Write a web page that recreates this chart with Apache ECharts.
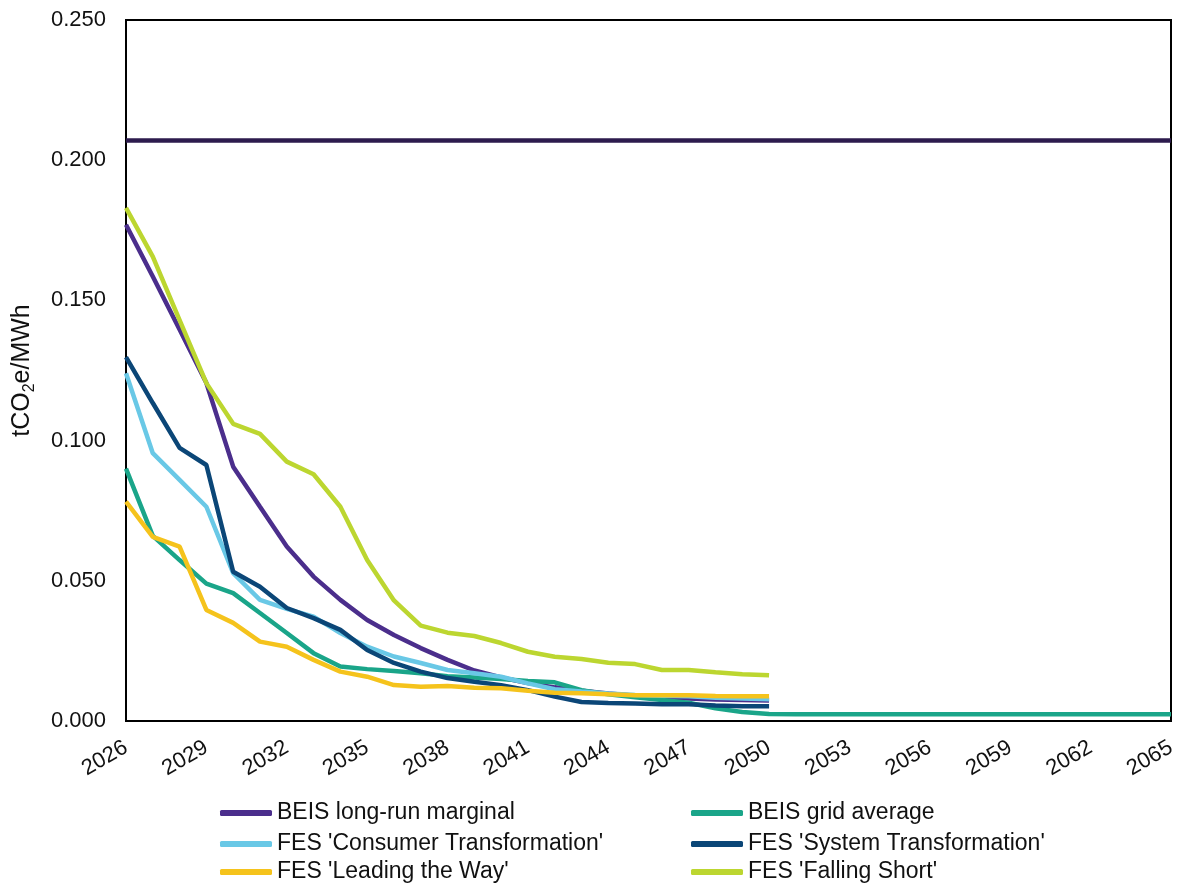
<!DOCTYPE html>
<html>
<head>
<meta charset="utf-8">
<script src="https://cdn.jsdelivr.net/npm/echarts@6/dist/echarts.min.js"></script>
<style>
html,body{margin:0;padding:0;background:#fff;}
#chart{width:1181px;height:883px;}
</style>
</head>
<body>
<div id="chart"></div>
<script>
// Categories (years)
const years = ['2026','2027','2028','2029','2030','2031','2032','2033','2034','2035',
  '2036','2037','2038','2039','2040','2041','2042','2043','2044','2045',
  '2046','2047','2048','2049','2050','2051','2052','2053','2054','2055',
  '2056','2057','2058','2059','2060','2061','2062','2063','2064','2065'];

// Series values (tCO2e/MWh)
const longRunFlatValue = 0.207;
const beisLongRunMarginal = [0.177,0.1585,0.1396,0.1205,0.0907,0.0764,0.0622,0.0515,0.0432,0.036,
  0.0307,0.026,0.0218,0.018,0.0155,0.0135,0.012,0.0108,0.0098,0.009,
  0.0085,0.008,0.0077,0.0075,0.0073];
const beisGridAverage = [0.090,0.066,0.0574,0.049,0.0456,0.0385,0.0314,0.0242,0.0194,0.0185,
  0.0178,0.017,0.016,0.0155,0.015,0.0143,0.0138,0.011,0.0095,0.0085,
  0.0075,0.0065,0.0045,0.0032,0.0025,0.0024,0.0024,0.0024,0.0024,0.0024,
  0.0024,0.0024,0.0024,0.0024,0.0024,0.0024,0.0024,0.0024,0.0024,0.0024];
const fesConsumer = [0.124,0.0955,0.086,0.0764,0.0527,0.0432,0.040,0.0372,0.0314,0.0265,
  0.023,0.0207,0.0182,0.017,0.0158,0.0134,0.0113,0.0105,0.0098,0.0093,
  0.009,0.0088,0.0083,0.008,0.0078];
const fesSystem = [0.1298,0.1134,0.0974,0.0913,0.0532,0.0479,0.0403,0.0367,0.0325,0.0253,
  0.0207,0.0176,0.0153,0.014,0.0128,0.011,0.0087,0.0068,0.0064,0.0062,
  0.006,0.006,0.0055,0.0053,0.0053];
const fesLeading = [0.0782,0.0657,0.0622,0.0396,0.035,0.0283,0.0265,0.0218,0.0176,0.0158,
  0.0128,0.0122,0.0125,0.0119,0.0117,0.0108,0.0101,0.0099,0.0095,0.0092,
  0.0092,0.0092,0.0089,0.0088,0.0088];
const fesFalling = [0.183,0.1656,0.143,0.1205,0.106,0.1024,0.0925,0.088,0.0764,0.0574,
  0.043,0.034,0.0315,0.0303,0.0278,0.0247,0.0229,0.0221,0.0208,0.0203,
  0.0182,0.0182,0.0174,0.0167,0.0163];

// Names
const names = ["BEIS long-run marginal","BEIS grid average","FES 'Consumer Transformation'",
  "FES 'System Transformation'","FES 'Leading the Way'","FES 'Falling Short'"];
const colors = ['#4b2e8c','#1aa589','#69c8e6','#0b4677','#f5c31c','#bcd630'];

const FONT = 'Liberation Sans, Arial, sans-serif';
const chart = echarts.init(document.getElementById('chart'));

function lineSeries(name, data, color, z) {
  return {
    name: name, type: 'line', data: data, symbol: 'none', showSymbol: false,
    lineStyle: {color: color, width: 4.5}, itemStyle: {color: color},
    z: z, animation: false
  };
}

// legend slots: [left, top] for each name
const legendLeft = [220, 691, 220, 691, 220, 691];
const legendTop = [801, 801, 832, 832, 860, 860];
const legends = names.map((n, i) => ({
  orient: 'horizontal', left: legendLeft[i], top: legendTop[i], data: [n],
  itemWidth: 52, itemHeight: 6, icon: 'roundRect', padding: 0,
  textStyle: {fontFamily: FONT, fontSize: 23, color: '#111', lineHeight: 24}
}));

chart.setOption({
  backgroundColor: '#fff',
  animation: false,
  grid: {left: 126, right: 10, top: 20, bottom: 162, show: true, borderColor: '#000', borderWidth: 2,
    containLabel: false, outerBoundsMode: 'none'},
  xAxis: {
    type: 'category', data: years, boundaryGap: false,
    axisLine: {show: true, lineStyle: {color: '#000', width: 2}},
    axisTick: {show: false},
    axisLabel: {interval: 2, rotate: 30, margin: 25, fontFamily: FONT, fontSize: 22, color: '#111'},
    splitLine: {show: false}
  },
  yAxis: {
    type: 'value', min: 0, max: 0.25, interval: 0.05,
    name: '{a|tCO}{s|2}{a|e/MWh}', nameLocation: 'middle', nameGap: 88, nameRotate: 90,
    nameTextStyle: {
      fontFamily: FONT, fontSize: 25, color: '#111',
      rich: {
        a: {fontFamily: FONT, fontSize: 25, color: '#111', lineHeight: 32},
        s: {fontFamily: FONT, fontSize: 16, color: '#111', lineHeight: 32, verticalAlign: 'bottom'}
      }
    },
    axisLine: {show: true, lineStyle: {color: '#000', width: 2}},
    axisTick: {show: false},
    axisLabel: {margin: 20, fontFamily: FONT, fontSize: 22, color: '#111', formatter: v => v.toFixed(3)},
    splitLine: {show: false}
  },
  legend: legends,
  series: [
    {
      name: 'flat', type: 'line', data: years.map(() => longRunFlatValue), symbol: 'none',
      lineStyle: {color: '#2d1b4e', width: 4.5}, z: 1, animation: false, legendHoverLink: false
    },
    lineSeries(names[0], beisLongRunMarginal, colors[0], 2),
    lineSeries(names[1], beisGridAverage, colors[1], 3),
    lineSeries(names[2], fesConsumer, colors[2], 4),
    lineSeries(names[3], fesSystem, colors[3], 5),
    lineSeries(names[4], fesLeading, colors[4], 6),
    lineSeries(names[5], fesFalling, colors[5], 7)
  ]
});
</script>
</body>
</html>
